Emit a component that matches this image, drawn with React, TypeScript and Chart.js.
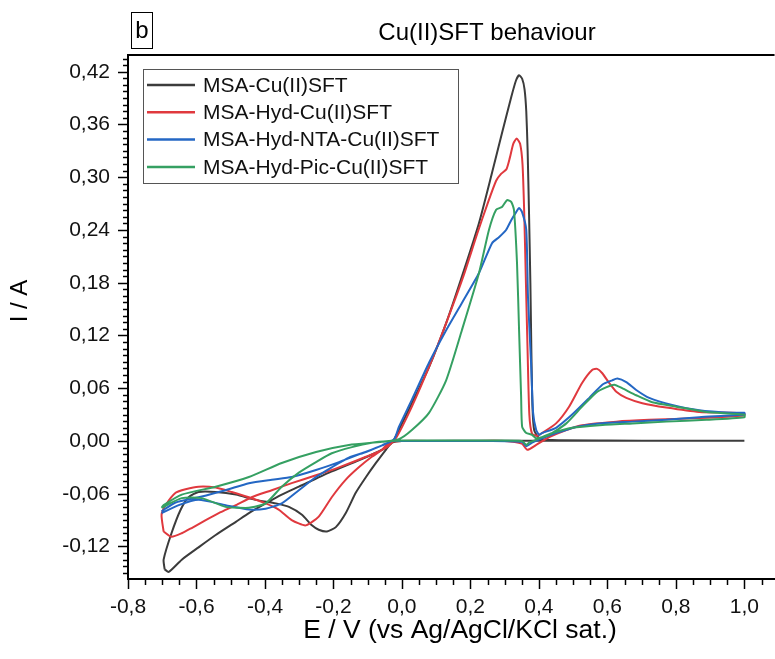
import React, { useEffect, useRef } from "react";
import { Chart, registerables } from "chart.js";

Chart.register(...registerables);

// ---------- data ----------
const seriesLabels = [
  "MSA-Cu(II)SFT",
  "MSA-Hyd-Cu(II)SFT",
  "MSA-Hyd-NTA-Cu(II)SFT",
  "MSA-Hyd-Pic-Cu(II)SFT",
];
const seriesColors = ["#3c3c3c", "#e0393e", "#2467c4", "#35a062"];

// MSA-Cu(II)SFT  (E / V, I / A) – closed voltammogram loop
const blackE = [
  -0.693, -0.681, -0.643, -0.594, -0.544, -0.485, -0.447, -0.398, -0.351, -0.301, -0.213, -0.126, -0.058, -0.029,
  -0.009, 0.029, 0.079, 0.129, 0.175, 0.225, 0.263, 0.292, 0.319, 0.333, 0.342, 0.351, 0.358, 0.363, 0.367, 0.371,
  0.375, 0.378, 0.381, 0.386, 0.401, 0.439, 0.6, 0.8, 1.0,
  1.0, 0.8, 0.6, 0.4, 0.2, 0.0, -0.029,
  -0.047, -0.076, -0.105, -0.135, -0.164, -0.193, -0.219, -0.243, -0.263, -0.292, -0.33, -0.368, -0.427, -0.485,
  -0.544, -0.594, -0.623, -0.646, -0.673, -0.696, -0.693,
];
const blackI = [
  -0.146, -0.149, -0.135, -0.121, -0.107, -0.092, -0.082, -0.071, -0.061, -0.052, -0.036, -0.022, -0.01, -0.002,
  0.0125, 0.043, 0.084, 0.134, 0.187, 0.248, 0.305, 0.35, 0.391, 0.41, 0.416, 0.412, 0.4, 0.375, 0.33, 0.26,
  0.18, 0.1, 0.04, 0.0125, 0.003, 0.001, 0.0005, 0.0003, 0.0003,
  0.0003, 0.0003, 0.0003, 0.0003, 0.0003, 0.0, -0.002,
  -0.01, -0.025, -0.041, -0.059, -0.082, -0.098, -0.103, -0.101, -0.096, -0.084, -0.075, -0.071, -0.067, -0.061,
  -0.058, -0.058, -0.064, -0.078, -0.105, -0.135, -0.146,
];

// MSA-Hyd-Cu(II)SFT
const redE = [
  -0.696, -0.673, -0.643, -0.614, -0.573, -0.535, -0.485, -0.439, -0.38, -0.322, -0.251, -0.184, -0.105, -0.047,
  -0.018, 0.03, 0.08, 0.13, 0.18, 0.22, 0.25, 0.275, 0.29, 0.305, 0.315, 0.325, 0.335, 0.345, 0.352, 0.357, 0.362,
  0.367, 0.372, 0.38, 0.395, 0.409, 0.45, 0.488, 0.526, 0.556, 0.57, 0.585, 0.605, 0.626, 0.655, 0.702, 0.772,
  0.868, 0.965, 1.0,
  1.0, 0.868, 0.722, 0.626, 0.526, 0.48, 0.43, 0.392, 0.366, 0.35, 0.3, 0.2, 0.1, 0.0,
  -0.038, -0.058, -0.088, -0.126, -0.164, -0.205, -0.243, -0.281, -0.322, -0.36, -0.398, -0.447, -0.497, -0.544,
  -0.594, -0.632, -0.661, -0.69, -0.702, -0.696,
];
const redI = [
  -0.103, -0.109, -0.105, -0.099, -0.09, -0.082, -0.073, -0.064, -0.056, -0.048, -0.039, -0.03, -0.018, -0.008,
  0.003, 0.04, 0.085, 0.135, 0.188, 0.236, 0.27, 0.296, 0.304, 0.309, 0.322, 0.338, 0.344, 0.338, 0.315, 0.26, 0.18,
  0.1, 0.03, 0.008, 0.006, 0.009, 0.02, 0.039, 0.066, 0.081, 0.082, 0.077, 0.066, 0.056, 0.049, 0.043, 0.038,
  0.033, 0.032, 0.031,
  0.029, 0.026, 0.024, 0.022, 0.018, 0.0125, 0.0045, -0.0045, -0.01, -0.003, 0.0, 0.0, 0.0, 0.0,
  -0.002, -0.01, -0.018, -0.03, -0.044, -0.064, -0.086, -0.096, -0.09, -0.078, -0.071, -0.064, -0.058, -0.053,
  -0.052, -0.055, -0.059, -0.073, -0.084, -0.103,
];

// MSA-Hyd-NTA-Cu(II)SFT
const blueE = [
  -0.702, -0.661, -0.594, -0.515, -0.447, -0.38, -0.322, -0.251, -0.184, -0.117, -0.058, -0.023, -0.009, 0.029,
  0.079, 0.129, 0.175, 0.225, 0.263, 0.284, 0.304, 0.319, 0.333, 0.342, 0.351, 0.363, 0.368, 0.377, 0.383, 0.392,
  0.401, 0.409, 0.45, 0.497, 0.547, 0.585, 0.614, 0.629, 0.655, 0.684, 0.722, 0.789, 0.868, 0.965, 1.0,
  1.0, 0.868, 0.772, 0.673, 0.576, 0.509, 0.45, 0.409, 0.38, 0.363, 0.35, 0.25, 0.1, 0.0,
  -0.029, -0.058, -0.105, -0.155, -0.205, -0.251, -0.301, -0.351, -0.398, -0.447, -0.515, -0.594, -0.652, -0.702,
];
const blueI = [
  -0.08, -0.07, -0.064, -0.056, -0.048, -0.044, -0.041, -0.033, -0.024, -0.014, -0.005, 0.002, 0.016, 0.047, 0.089,
  0.126, 0.157, 0.191, 0.225, 0.232, 0.24, 0.251, 0.26, 0.265, 0.26, 0.24, 0.164, 0.089, 0.032, 0.0125, 0.007,
  0.009, 0.015, 0.03, 0.049, 0.064, 0.069, 0.071, 0.067, 0.058, 0.049, 0.041, 0.035, 0.032, 0.032,
  0.03, 0.027, 0.024, 0.022, 0.02, 0.016, 0.009, 0.003, -0.002, -0.006, -0.001, 0.0, 0.0, 0.0,
  0.0, -0.005, -0.0125, -0.019, -0.03, -0.041, -0.056, -0.071, -0.077, -0.078, -0.073, -0.067, -0.073, -0.082,
];

// MSA-Hyd-Pic-Cu(II)SFT
const greenE = [
  -0.702, -0.696, -0.643, -0.544, -0.447, -0.351, -0.251, -0.155, -0.058, -0.009, 0.029, 0.079, 0.129, 0.175, 0.225,
  0.254, 0.275, 0.292, 0.307, 0.319, 0.327, 0.336, 0.342, 0.348, 0.351, 0.363, 0.38, 0.392, 0.43, 0.48, 0.526,
  0.567, 0.596, 0.62, 0.643, 0.684, 0.731, 0.801, 0.889, 1.0,
  1.0, 0.889, 0.772, 0.673, 0.576, 0.497, 0.439, 0.401, 0.371, 0.363, 0.35, 0.25, 0.1, 0.0,
  -0.038, -0.088, -0.146, -0.205, -0.251, -0.301, -0.351, -0.398, -0.447, -0.477, -0.515, -0.585, -0.643, -0.702,
];
const greenI = [
  -0.076, -0.073, -0.061, -0.052, -0.041, -0.025, -0.0125, -0.0045, -0.001, 0.002, 0.0125, 0.032, 0.069, 0.126,
  0.191, 0.24, 0.263, 0.266, 0.274, 0.272, 0.263, 0.202, 0.126, 0.05, 0.016, 0.009, 0.007, 0.003, 0.007, 0.02,
  0.039, 0.055, 0.061, 0.064, 0.06, 0.052, 0.044, 0.039, 0.033, 0.03,
  0.027, 0.024, 0.022, 0.02, 0.018, 0.015, 0.009, 0.003, -0.002, -0.0045, 0.0, 0.0005, 0.0005, 0.0005,
  0.0, -0.002, -0.007, -0.014, -0.024, -0.036, -0.052, -0.071, -0.076, -0.076, -0.075, -0.065, -0.065, -0.076,
];

const seriesE = [blackE, redE, blueE, greenE];
const seriesI = [blackI, redI, blueI, greenI];

// axes
const X_MIN = -0.8;
const X_MAX = 1.088;
const X_STEP = 0.2;
const X_MINOR_STEP = 0.05;
const Y_MIN = -0.157;
const Y_MAX = 0.439;
const Y_STEP = 0.06;
const Y_MINOR_STEP = 0.0075;

const chartTitle = "Cu(II)SFT behaviour";
const panelLetter = "b";
const xTitle = "E / V (vs Ag/AgCl/KCl sat.)";
const yTitle = "I / A";

const FONT = "'Liberation Sans', Arial, Helvetica, sans-serif";

const fmt = (v: number, d: number) => {
  const r = Math.abs(v) < 1e-9 ? 0 : v;
  return r.toFixed(d).replace(".", ",");
};

const decorPlugin = {
  id: "decor",
  afterDraw(chart: any) {
    const { ctx, chartArea } = chart;
    const xs = chart.scales.x;
    const ys = chart.scales.y;
    ctx.save();
    ctx.strokeStyle = "#000";
    ctx.fillStyle = "#000";

    // top frame line
    ctx.lineWidth = 2;
    ctx.beginPath();
    ctx.moveTo(chartArea.left, chartArea.top);
    ctx.lineTo(chartArea.right, chartArea.top);
    ctx.stroke();

    // x ticks (major + minor), outward
    ctx.lineWidth = 1.5;
    const nx0 = Math.ceil((X_MIN - 1e-9) / X_MINOR_STEP);
    const nx1 = Math.floor((X_MAX + 1e-9) / X_MINOR_STEP);
    const xPer = Math.round(X_STEP / X_MINOR_STEP);
    for (let k = nx0; k <= nx1; k++) {
      const v = k * X_MINOR_STEP;
      const px = Math.round(xs.getPixelForValue(v)) + 0.5;
      const major = ((k % xPer) + xPer) % xPer === 0;
      const len = major ? 10 : 6;
      ctx.beginPath();
      ctx.moveTo(px, chartArea.bottom);
      ctx.lineTo(px, chartArea.bottom + len);
      ctx.stroke();
    }
    // y ticks
    const ny0 = Math.ceil((Y_MIN - 1e-9) / Y_MINOR_STEP);
    const ny1 = Math.floor((Y_MAX + 1e-9) / Y_MINOR_STEP);
    const yPer = Math.round(Y_STEP / Y_MINOR_STEP);
    for (let k = ny0; k <= ny1; k++) {
      const v = k * Y_MINOR_STEP;
      const py = Math.round(ys.getPixelForValue(v)) + 0.5;
      const major = ((k % yPer) + yPer) % yPer === 0;
      const len = major ? 10 : 5;
      ctx.beginPath();
      ctx.moveTo(chartArea.left - len, py);
      ctx.lineTo(chartArea.left, py);
      ctx.stroke();
    }

    // panel letter box
    ctx.lineWidth = 1;
    ctx.strokeRect(131.5, 12.5, 21, 36);
    ctx.font = `24px ${FONT}`;
    ctx.textAlign = "center";
    ctx.textBaseline = "middle";
    ctx.fillText(panelLetter, 142, 31);

    // title
    ctx.font = `24px ${FONT}`;
    ctx.fillText(chartTitle, 487, 33);

    // axis titles
    ctx.font = `26.5px ${FONT}`;
    ctx.fillText(xTitle, 460, 631);
    ctx.save();
    ctx.translate(20, 301);
    ctx.rotate(-Math.PI / 2);
    ctx.font = `24px ${FONT}`;
    ctx.fillText(yTitle, 0, 0);
    ctx.restore();

    // legend
    const lx = 143.5, ly = 69.5, lw = 315, lh = 114;
    ctx.fillStyle = "#fff";
    ctx.fillRect(lx, ly, lw, lh);
    ctx.strokeStyle = "#555";
    ctx.lineWidth = 1;
    ctx.strokeRect(lx, ly, lw, lh);
    ctx.font = `21px ${FONT}`;
    ctx.textAlign = "left";
    ctx.textBaseline = "middle";
    chart.data.datasets.forEach((ds: any, i: number) => {
      const yy = 85 + i * 27.3;
      ctx.strokeStyle = ds.borderColor;
      ctx.lineWidth = 2.5;
      ctx.beginPath();
      ctx.moveTo(147, yy);
      ctx.lineTo(195, yy);
      ctx.stroke();
      ctx.fillStyle = "#111";
      ctx.fillText(ds.label, 203, yy + 1);
    });
    ctx.restore();
  },
};

export default function App() {
  const ref = useRef<HTMLCanvasElement | null>(null);
  useEffect(() => {
    if (!ref.current) return;
    const datasets = seriesLabels.map((label, i) => ({
      label,
      data: seriesE[i].map((e, j) => ({ x: e, y: seriesI[i][j] })),
      borderColor: seriesColors[i],
      backgroundColor: seriesColors[i],
      borderWidth: 2,
      pointRadius: 0,
      showLine: true,
      fill: false,
      tension: 0.2,
      order: 3 - i,
    }));
    const chart = new Chart(ref.current, {
      type: "scatter",
      data: { datasets },
      options: {
        responsive: false,
        animation: false,
        events: [],
        layout: { padding: { top: 55, right: 0, bottom: 0, left: 0 } },
        plugins: { legend: { display: false }, tooltip: { enabled: false }, title: { display: false } },
        scales: {
          x: {
            type: "linear",
            min: X_MIN,
            max: X_MAX,
            grid: { display: false, drawTicks: false },
            border: { display: true, color: "#000", width: 2 },
            ticks: {
              stepSize: X_STEP,
              includeBounds: false,
              padding: 16,
              color: "#111",
              font: { family: FONT, size: 21 },
              maxRotation: 0,
              autoSkip: false,
              callback: (v: any) => fmt(Number(v), 1),
            },
            afterFit: (s: any) => {
              s.height = 80;
            },
          },
          y: {
            type: "linear",
            min: Y_MIN,
            max: Y_MAX,
            grid: { display: false, drawTicks: false },
            border: { display: true, color: "#000", width: 2 },
            ticks: {
              stepSize: Y_STEP,
              includeBounds: false,
              padding: 18,
              color: "#111",
              font: { family: FONT, size: 21 },
              autoSkip: false,
              callback: (v: any) => fmt(Number(v), 2),
            },
            afterFit: (s: any) => {
              s.width = 128;
            },
          },
        },
      },
      plugins: [decorPlugin],
    } as any);
    return () => chart.destroy();
  }, []);
  return (
    <div style={{ position: "fixed", left: 0, top: 0, width: 775, height: 659, background: "#fff" }}>
      <canvas ref={ref} width={775} height={659} style={{ display: "block", width: 775, height: 659 }} />
    </div>
  );
}
